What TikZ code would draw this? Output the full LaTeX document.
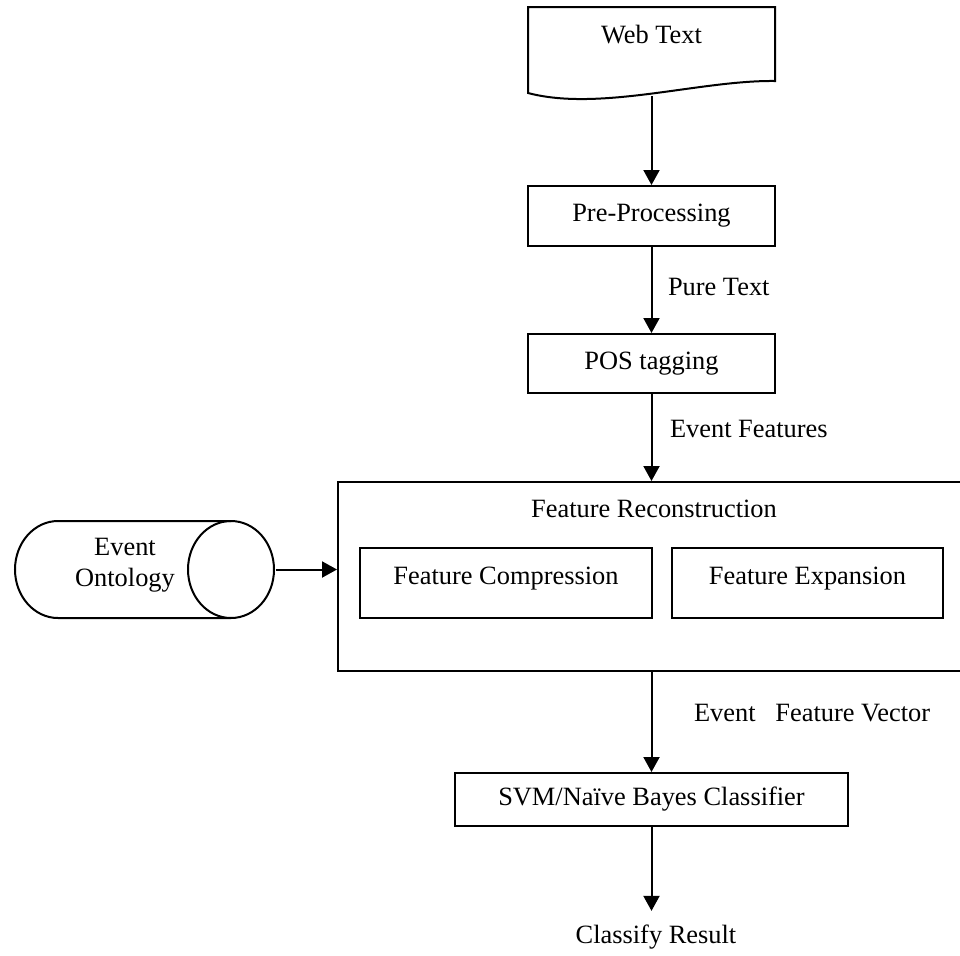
\documentclass[tikz,border=0pt]{standalone}
\usepackage{fontspec}
\setmainfont{Liberation Serif}
\usetikzlibrary{positioning,arrows.meta}

\begin{document}
\begin{tikzpicture}[x=0.5pt, y=-0.5pt, line width=1pt,
    font=\fontsize{13.2}{15.8}\selectfont,
    >={Triangle[length=7.5pt,width=8pt]},
    main/.style = {draw, rectangle, inner sep=0pt},
    part/.style = {main, minimum height=35pt, text depth=7pt},
    tag/.style = {anchor=west, inner sep=0pt}]
    \useasboundingbox (0,0) rectangle (960,955);
    \clip (0,0) rectangle (960,955);
    % Nodes
    \node (web) at (651.5,35) {Web Text};
    \draw (528,7) -- (775,7) -- (775,81) .. controls (700,80) and (600,112) .. (528,93) -- cycle;
    \coordinate (webend) at (651.5,96);
    \node[main, minimum width=123.5pt, minimum height=30pt] (pre) at (651.5,216) {Pre-Processing};
    \node[main, minimum width=123.5pt, minimum height=29.5pt] (pos) at (651.5,363.5) {POS tagging};
    \node[main, minimum width=318.5pt, minimum height=94.5pt] (recon) at (656.5,576.5) {};
    \node (recontitle) at (654,509) {Feature Reconstruction};
    \node[part, minimum width=146pt] (compress) at (506,583) {Feature Compression};
    \node[part, minimum width=135.5pt] (expand) at (807.5,583) {Feature Expansion};
    % ontology drum
    \node[minimum width=130pt, minimum height=48.5pt, inner sep=0pt] (onto) at (145,569.5) {};
    \draw (231,521) -- (58,521) arc[start angle=270, end angle=90, x radius=43, y radius=48.5] -- (231,618);
    \draw (231,569.5) ellipse [x radius=43, y radius=48.5];
    \node[align=center, inner sep=0pt] (ontotext) at (125,565) {Event\\Ontology};
    \node[main, minimum width=196.5pt, minimum height=26.5pt] (svm) at (651.5,799.5) {SVM/Naïve Bayes Classifier};
    \node[inner sep=6.5pt] (result) at (656,937) {Classify Result};
    % Labels
    \node[tag] (puretext) at (667,287) {Pure Text};
    \node[tag] (eventfeat) at (669,429) {Event Features};
    \node[tag] (featvec) at (693,713) {Event~~~Feature Vector};
    % Edges
    \draw[->] (webend) -- (pre);
    \draw[->] (pre) -- (pos);
    \draw[->] (pos.south) -- (pos.south |- recon.north);
    \draw[->] (onto.east) -- (onto.east -| recon.west);
    \draw[->] (svm.north |- recon.south) -- (svm);
    \draw[->] (svm.south) -- (svm.south |- result.north);
\end{tikzpicture}
\end{document}
